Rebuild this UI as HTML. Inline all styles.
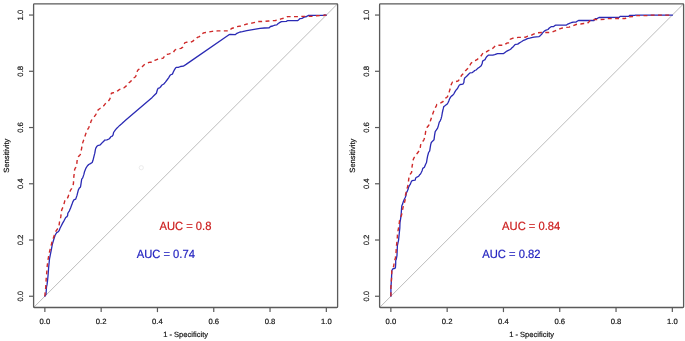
<!DOCTYPE html>
<html><head><meta charset="utf-8"><style>
html,body{margin:0;padding:0;background:#fff;}
body{width:685px;height:341px;overflow:hidden;}
svg{display:block;will-change:transform;text-rendering:geometricPrecision;font-variant-ligatures:none;font-feature-settings:"liga" 0;}
.tk{font-family:"Liberation Sans",sans-serif;font-size:7.7px;fill:#111;stroke:#111;stroke-width:0.18px;}
.tt{font-family:"Liberation Sans",sans-serif;font-size:7.55px;fill:#111;stroke:#111;stroke-width:0.18px;}
.auc{font-family:"Liberation Sans",sans-serif;font-size:11.2px;stroke-width:0.2px;}
</style></head><body>
<svg width="685" height="341" viewBox="0 0 685 341">
<rect width="685" height="341" fill="#fff"/>
<circle cx="141.3" cy="167.7" r="2.1" fill="none" stroke="#ececec" stroke-width="1"/>
<line x1="33.60" y1="307.50" x2="337.60" y2="3.80" stroke="#b4b4b4" stroke-width="0.9"/>
<rect x="33.60" y="3.80" width="304.00" height="303.70" fill="none" stroke="#5a5a5a" stroke-width="1.3" rx="0.8"/>
<line x1="44.86" y1="307.50" x2="44.86" y2="312.10" stroke="#5a5a5a" stroke-width="1.2"/>
<line x1="33.60" y1="296.25" x2="29.00" y2="296.25" stroke="#5a5a5a" stroke-width="1.2"/>
<text x="44.86" y="324.20" class="tk" text-anchor="middle">0.0</text>
<text transform="translate(23.20,296.25) rotate(-90)" class="tk" text-anchor="middle">0.0</text>
<line x1="101.16" y1="307.50" x2="101.16" y2="312.10" stroke="#5a5a5a" stroke-width="1.2"/>
<line x1="33.60" y1="240.01" x2="29.00" y2="240.01" stroke="#5a5a5a" stroke-width="1.2"/>
<text x="101.16" y="324.20" class="tk" text-anchor="middle">0.2</text>
<text transform="translate(23.20,240.01) rotate(-90)" class="tk" text-anchor="middle">0.2</text>
<line x1="157.45" y1="307.50" x2="157.45" y2="312.10" stroke="#5a5a5a" stroke-width="1.2"/>
<line x1="33.60" y1="183.77" x2="29.00" y2="183.77" stroke="#5a5a5a" stroke-width="1.2"/>
<text x="157.45" y="324.20" class="tk" text-anchor="middle">0.4</text>
<text transform="translate(23.20,183.77) rotate(-90)" class="tk" text-anchor="middle">0.4</text>
<line x1="213.75" y1="307.50" x2="213.75" y2="312.10" stroke="#5a5a5a" stroke-width="1.2"/>
<line x1="33.60" y1="127.53" x2="29.00" y2="127.53" stroke="#5a5a5a" stroke-width="1.2"/>
<text x="213.75" y="324.20" class="tk" text-anchor="middle">0.6</text>
<text transform="translate(23.20,127.53) rotate(-90)" class="tk" text-anchor="middle">0.6</text>
<line x1="270.04" y1="307.50" x2="270.04" y2="312.10" stroke="#5a5a5a" stroke-width="1.2"/>
<line x1="33.60" y1="71.29" x2="29.00" y2="71.29" stroke="#5a5a5a" stroke-width="1.2"/>
<text x="270.04" y="324.20" class="tk" text-anchor="middle">0.8</text>
<text transform="translate(23.20,71.29) rotate(-90)" class="tk" text-anchor="middle">0.8</text>
<line x1="326.34" y1="307.50" x2="326.34" y2="312.10" stroke="#5a5a5a" stroke-width="1.2"/>
<line x1="33.60" y1="15.05" x2="29.00" y2="15.05" stroke="#5a5a5a" stroke-width="1.2"/>
<text x="326.34" y="324.20" class="tk" text-anchor="middle">1.0</text>
<text transform="translate(23.20,15.05) rotate(-90)" class="tk" text-anchor="middle">1.0</text>
<text x="185.60" y="337.05" class="tt" text-anchor="middle">1 - Specificity</text>
<text transform="translate(9.30,155.65) rotate(-90)" class="tt" text-anchor="middle">Sensitivity</text>
<path d="M44.9,296.2 L46.0,294.4 L46.5,286.9 L47.0,284.9 L47.5,280.9 L48.0,276.0 L48.4,271.0 L48.6,268.0 L49.5,258.9 L50.5,253.9 L51.5,248.9 L52.4,244.0 L53.9,239.0 L55.2,235.0 L56.7,232.6 L58.3,231.7 L59.3,230.4 L59.9,228.5 L61.2,226.0 L62.5,223.4 L63.8,221.1 L64.8,219.2 L65.7,217.5 L67.0,216.6 L67.7,215.3 L67.7,213.7 L68.3,212.4 L69.3,211.1 L69.9,209.5 L70.6,207.9 L71.2,206.3 L71.9,204.6 L72.6,202.4 L73.9,199.8 L75.7,199.1 L77.0,195.4 L78.3,190.1 L79.2,188.3 L80.5,187.0 L81.0,183.9 L81.7,179.1 L82.7,177.9 L83.9,174.4 L84.5,171.7 L85.8,168.4 L87.3,166.0 L88.7,164.5 L90.4,163.6 L92.2,162.5 L93.0,160.3 L93.9,156.7 L94.8,153.2 L95.3,150.1 L95.7,148.4 L97.0,146.2 L98.3,145.3 L99.7,145.2 L101.0,144.0 L102.3,142.6 L103.6,141.6 L104.5,140.2 L106.9,139.8 L109.0,139.0 L110.2,137.8 L111.0,136.5 L112.3,136.1 L113.1,134.9 L113.5,132.8 L113.9,132.0 L114.7,130.8 L115.6,129.6 L116.8,128.3 L118.0,127.1 L119.7,125.4 L121.7,123.8 L125.8,120.1 L152.2,97.4 L154.3,95.3 L156.4,93.2 L157.3,90.0 L158.0,88.4 L159.6,87.9 L160.7,86.8 L161.7,85.2 L163.8,84.0 L165.4,82.1 L167.0,80.0 L168.6,77.8 L170.2,75.2 L171.2,74.5 L172.5,74.1 L173.3,72.0 L174.4,69.9 L175.5,68.2 L176.2,67.3 L178.3,67.3 L180.5,66.5 L183.3,66.2 L186.1,64.4 L229.0,34.7 L230.3,34.4 L235.2,34.7 L236.9,33.3 L240.0,32.0 L242.4,31.6 L246.8,30.7 L251.2,29.8 L255.6,29.1 L260.0,28.4 L264.4,28.0 L269.2,27.8 L270.5,26.5 L272.7,26.0 L274.9,25.1 L276.8,24.9 L278.2,23.5 L280.0,22.4 L281.4,21.6 L286.3,21.4 L287.4,20.7 L297.9,20.5 L299.0,19.6 L300.1,18.6 L302.3,18.3 L304.1,17.1 L306.7,16.5 L308.2,15.4 L323.4,15.4 L324.3,15.0 L326.3,15.1" fill="none" stroke="#2a2ab4" stroke-width="1.3" stroke-linejoin="round" stroke-linecap="round"/>
<path d="M44.9,296.2 L45.0,293.9 L45.5,289.9 L45.8,285.9 L46.2,278.9 L46.5,275.0 L47.0,270.0 L47.2,266.0 L48.0,259.9 L49.0,253.9 L50.5,247.9 L52.0,242.0 L53.4,238.0 L54.4,235.0 L56.1,230.8 L57.9,228.4 L59.0,226.0 L59.5,222.0 L60.4,219.3 L60.8,216.7 L61.3,212.7 L61.7,210.1 L63.0,207.0 L63.9,204.4 L64.8,200.8 L65.7,199.3 L67.0,199.1 L68.3,196.4 L69.1,193.2 L70.4,190.5 L71.7,188.3 L73.0,185.7 L73.5,183.0 L73.5,180.4 L73.9,176.0 L74.2,173.7 L74.6,169.8 L75.3,168.0 L76.3,167.1 L76.8,163.8 L77.2,159.8 L77.9,156.9 L79.2,155.9 L80.3,154.6 L80.8,151.9 L81.6,148.6 L82.3,144.0 L83.5,140.5 L84.7,137.0 L85.9,133.4 L87.0,130.5 L88.8,127.6 L90.0,124.7 L91.1,121.1 L92.3,118.8 L94.1,117.0 L95.8,114.7 L96.4,113.0 L97.3,110.8 L98.6,109.5 L100.4,108.2 L102.2,107.3 L103.9,105.6 L105.2,103.8 L106.6,102.5 L108.3,101.2 L109.6,99.4 L110.5,97.2 L111.0,95.0 L111.4,93.2 L113.2,92.8 L114.9,92.4 L116.2,91.5 L118.0,90.6 L119.8,89.3 L121.9,88.5 L123.7,88.0 L126.1,86.1 L127.5,84.2 L128.9,82.8 L130.8,81.4 L131.7,79.6 L132.7,78.2 L134.1,77.7 L135.5,76.7 L136.4,74.9 L136.9,73.0 L137.3,71.1 L138.3,69.7 L139.7,68.8 L141.1,68.3 L142.5,66.4 L143.9,65.0 L145.3,64.1 L147.2,63.2 L149.1,62.4 L150.4,62.2 L152.6,62.2 L154.8,60.4 L157.4,59.3 L160.5,58.7 L163.2,58.1 L164.0,56.9 L165.3,54.7 L167.5,54.3 L169.3,53.8 L171.5,53.0 L173.3,52.5 L174.6,50.3 L175.8,49.5 L177.5,49.0 L181.0,48.4 L182.8,47.1 L183.7,44.5 L185.0,42.7 L186.3,42.3 L190.7,42.3 L192.5,41.4 L194.2,40.1 L196.0,38.8 L197.3,37.4 L199.5,36.6 L200.4,35.2 L201.7,34.4 L203.5,32.9 L205.7,32.5 L208.8,32.0 L212.3,31.4 L217.6,30.9 L229.5,30.9 L230.3,29.8 L231.6,28.5 L234.3,27.6 L236.9,26.7 L240.6,26.0 L243.3,25.1 L245.9,24.3 L249.4,23.6 L252.9,22.9 L255.6,22.3 L256.9,21.6 L260.0,21.5 L264.4,21.4 L268.8,21.0 L273.2,20.6 L275.4,20.5 L278.2,20.0 L281.0,18.9 L283.9,18.2 L285.6,17.5 L287.7,16.6 L300.1,16.6 L303.6,16.4 L306.4,16.4 L310.0,16.4 L313.5,16.3 L316.4,15.7 L323.4,15.5 L324.6,15.1 L326.3,15.1" fill="none" stroke="#cf2a2a" stroke-width="1.4" stroke-dasharray="3.9 3.4" stroke-linejoin="round"/>
<text transform="translate(185.40,230.4) scale(1,1.07)" class="auc" fill="#cc1e1e" stroke="#cc1e1e" text-anchor="middle">AUC = 0.8</text>
<text transform="translate(165.80,257.8) scale(1,1.07)" class="auc" fill="#2424c0" stroke="#2424c0" text-anchor="middle">AUC = 0.74</text>
<line x1="379.60" y1="307.50" x2="683.60" y2="3.80" stroke="#b4b4b4" stroke-width="0.9"/>
<rect x="379.60" y="3.80" width="304.00" height="303.70" fill="none" stroke="#5a5a5a" stroke-width="1.3" rx="0.8"/>
<line x1="390.86" y1="307.50" x2="390.86" y2="312.10" stroke="#5a5a5a" stroke-width="1.2"/>
<line x1="379.60" y1="296.25" x2="375.00" y2="296.25" stroke="#5a5a5a" stroke-width="1.2"/>
<text x="390.86" y="324.20" class="tk" text-anchor="middle">0.0</text>
<text transform="translate(369.20,296.25) rotate(-90)" class="tk" text-anchor="middle">0.0</text>
<line x1="447.16" y1="307.50" x2="447.16" y2="312.10" stroke="#5a5a5a" stroke-width="1.2"/>
<line x1="379.60" y1="240.01" x2="375.00" y2="240.01" stroke="#5a5a5a" stroke-width="1.2"/>
<text x="447.16" y="324.20" class="tk" text-anchor="middle">0.2</text>
<text transform="translate(369.20,240.01) rotate(-90)" class="tk" text-anchor="middle">0.2</text>
<line x1="503.45" y1="307.50" x2="503.45" y2="312.10" stroke="#5a5a5a" stroke-width="1.2"/>
<line x1="379.60" y1="183.77" x2="375.00" y2="183.77" stroke="#5a5a5a" stroke-width="1.2"/>
<text x="503.45" y="324.20" class="tk" text-anchor="middle">0.4</text>
<text transform="translate(369.20,183.77) rotate(-90)" class="tk" text-anchor="middle">0.4</text>
<line x1="559.75" y1="307.50" x2="559.75" y2="312.10" stroke="#5a5a5a" stroke-width="1.2"/>
<line x1="379.60" y1="127.53" x2="375.00" y2="127.53" stroke="#5a5a5a" stroke-width="1.2"/>
<text x="559.75" y="324.20" class="tk" text-anchor="middle">0.6</text>
<text transform="translate(369.20,127.53) rotate(-90)" class="tk" text-anchor="middle">0.6</text>
<line x1="616.04" y1="307.50" x2="616.04" y2="312.10" stroke="#5a5a5a" stroke-width="1.2"/>
<line x1="379.60" y1="71.29" x2="375.00" y2="71.29" stroke="#5a5a5a" stroke-width="1.2"/>
<text x="616.04" y="324.20" class="tk" text-anchor="middle">0.8</text>
<text transform="translate(369.20,71.29) rotate(-90)" class="tk" text-anchor="middle">0.8</text>
<line x1="672.34" y1="307.50" x2="672.34" y2="312.10" stroke="#5a5a5a" stroke-width="1.2"/>
<line x1="379.60" y1="15.05" x2="375.00" y2="15.05" stroke="#5a5a5a" stroke-width="1.2"/>
<text x="672.34" y="324.20" class="tk" text-anchor="middle">1.0</text>
<text transform="translate(369.20,15.05) rotate(-90)" class="tk" text-anchor="middle">1.0</text>
<text x="531.60" y="337.05" class="tt" text-anchor="middle">1 - Specificity</text>
<text transform="translate(355.30,155.65) rotate(-90)" class="tt" text-anchor="middle">Sensitivity</text>
<path d="M390.9,296.2 L390.9,287.7 L391.5,278.8 L391.8,270.8 L392.8,268.8 L394.4,268.5 L395.4,267.9 L395.7,263.7 L395.7,260.5 L396.3,259.2 L397.0,255.3 L397.4,245.6 L398.6,239.8 L399.2,234.0 L399.8,228.2 L400.0,222.6 L400.7,218.1 L401.2,213.6 L401.5,209.2 L401.8,205.8 L402.6,204.1 L403.2,201.9 L404.2,199.5 L405.1,197.7 L406.0,195.5 L406.4,192.9 L407.3,191.1 L408.2,188.9 L408.6,187.2 L409.5,185.4 L410.4,184.1 L411.2,181.9 L412.1,180.6 L415.2,180.1 L415.6,178.4 L416.1,177.5 L417.4,176.9 L418.7,176.2 L419.6,174.8 L420.5,174.0 L421.4,172.2 L422.2,170.4 L422.8,168.4 L424.4,167.3 L425.4,164.7 L426.5,162.5 L427.0,159.4 L427.6,156.2 L428.6,152.5 L429.7,150.9 L430.2,147.7 L430.7,144.6 L431.3,142.5 L432.8,140.9 L434.0,139.8 L434.6,135.1 L435.2,131.6 L436.4,129.9 L437.6,128.1 L438.5,125.2 L439.3,122.2 L440.1,121.1 L441.1,118.7 L441.7,116.4 L442.2,113.5 L442.8,110.5 L443.4,108.2 L443.8,106.5 L444.6,106.1 L445.9,105.1 L447.2,104.1 L448.1,102.5 L448.8,100.9 L449.4,99.3 L450.4,97.4 L451.4,96.1 L452.6,95.4 L453.9,93.8 L454.9,91.9 L456.0,90.1 L457.5,88.5 L458.5,86.5 L459.4,85.0 L460.4,84.5 L462.9,84.2 L463.9,82.5 L464.1,80.0 L464.7,78.0 L465.8,77.1 L467.2,75.7 L468.6,74.3 L470.0,72.9 L472.3,72.6 L473.7,71.5 L474.7,70.5 L476.1,70.0 L477.5,68.6 L479.4,67.2 L481.2,65.8 L482.2,63.5 L482.6,61.1 L484.0,60.2 L485.0,59.7 L485.9,57.8 L486.9,56.4 L488.3,55.2 L492.8,55.2 L494.7,54.6 L497.5,53.6 L503.6,53.6 L505.0,52.5 L506.9,51.1 L508.8,50.2 L510.6,49.2 L512.0,47.8 L513.5,46.4 L514.9,44.8 L515.8,44.3 L517.7,44.1 L519.1,43.1 L520.5,42.2 L521.8,41.5 L523.6,40.3 L525.5,39.6 L527.4,38.6 L529.7,38.2 L531.6,37.7 L533.9,37.2 L536.3,36.8 L539.1,36.6 L540.5,35.4 L541.9,34.0 L542.9,32.5 L544.3,31.1 L546.1,30.2 L548.0,29.5 L549.3,28.0 L551.1,26.7 L553.3,26.7 L555.0,25.4 L555.9,25.1 L566.5,25.1 L567.8,24.1 L569.5,23.4 L571.7,22.5 L573.5,22.1 L576.1,22.1 L577.5,21.0 L578.8,20.4 L594.1,20.5 L595.4,18.6 L597.4,18.4 L599.0,17.5 L619.2,17.4 L620.1,16.4 L628.9,16.4 L629.4,15.5 L634.7,15.4 L635.6,15.1 L672.5,15.1" fill="none" stroke="#2a2ab4" stroke-width="1.3" stroke-linejoin="round" stroke-linecap="round"/>
<path d="M390.9,296.2 L390.9,287.7 L391.5,278.8 L391.8,270.8 L392.5,268.8 L393.7,266.3 L394.1,263.0 L394.7,260.5 L395.4,257.9 L396.0,253.0 L396.5,245.6 L397.2,239.8 L397.5,234.0 L398.1,230.4 L398.9,225.9 L399.6,220.3 L400.4,217.6 L401.5,215.3 L402.3,211.4 L403.0,207.5 L403.7,204.7 L404.5,202.5 L405.2,199.7 L405.5,194.9 L406.5,190.9 L407.7,186.3 L408.4,183.2 L408.6,180.1 L409.1,176.6 L410.4,174.0 L411.6,172.4 L411.9,168.0 L412.2,165.7 L412.8,162.5 L413.3,159.4 L414.3,157.3 L415.9,155.1 L417.5,153.0 L419.1,150.9 L420.2,148.8 L420.5,145.6 L421.2,142.5 L422.8,141.4 L423.9,139.8 L424.7,137.7 L425.1,135.6 L425.3,134.0 L425.9,129.9 L427.0,127.5 L428.8,125.2 L430.0,122.2 L431.1,118.7 L432.3,115.2 L433.5,111.7 L434.6,109.3 L435.5,107.4 L436.2,106.1 L436.8,104.5 L438.5,103.8 L440.1,103.5 L441.4,102.5 L442.6,101.9 L443.9,100.6 L444.6,99.3 L445.2,98.3 L446.5,97.6 L447.5,96.7 L448.1,95.1 L448.5,94.1 L449.1,92.5 L449.5,90.9 L450.1,89.0 L450.5,86.5 L451.5,84.0 L452.5,82.0 L454.0,81.5 L456.0,81.5 L458.0,81.0 L459.4,79.5 L460.4,78.0 L461.4,75.5 L462.9,74.0 L463.9,73.3 L465.3,71.0 L466.7,69.6 L468.1,68.2 L469.5,65.8 L470.9,63.5 L472.3,61.9 L473.7,61.1 L475.1,60.7 L477.0,59.7 L478.4,58.3 L480.3,56.9 L481.7,55.0 L483.1,52.7 L484.5,51.9 L486.4,51.8 L488.3,50.6 L490.1,49.9 L491.9,49.2 L493.3,47.8 L494.7,46.4 L496.6,45.2 L504.1,45.2 L505.5,44.1 L506.9,43.1 L508.8,42.7 L509.7,41.3 L510.2,39.4 L511.1,38.9 L512.5,38.3 L515.3,38.0 L518.1,37.4 L521.8,37.4 L525.5,37.2 L527.4,36.3 L531.1,35.4 L533.0,34.4 L535.4,33.2 L537.7,32.8 L542.4,32.5 L549.8,32.5 L552.4,32.0 L555.0,30.9 L557.7,30.0 L560.3,28.6 L562.5,28.0 L565.6,27.4 L569.1,27.1 L571.7,26.3 L573.9,25.4 L576.1,24.5 L578.3,24.0 L580.6,24.0 L583.8,23.5 L587.4,23.4 L589.3,21.5 L590.6,19.9 L594.1,19.5 L605.1,19.4 L607.7,18.6 L625.3,18.5 L627.7,16.8 L634.3,16.6 L636.1,15.6 L649.5,15.6 L650.3,15.1 L672.5,15.1" fill="none" stroke="#cf2a2a" stroke-width="1.4" stroke-dasharray="3.9 3.4" stroke-linejoin="round"/>
<text transform="translate(531.20,230.4) scale(1,1.07)" class="auc" fill="#cc1e1e" stroke="#cc1e1e" text-anchor="middle">AUC = 0.84</text>
<text transform="translate(511.40,257.8) scale(1,1.07)" class="auc" fill="#2424c0" stroke="#2424c0" text-anchor="middle">AUC = 0.82</text>
</svg>
</body></html>
